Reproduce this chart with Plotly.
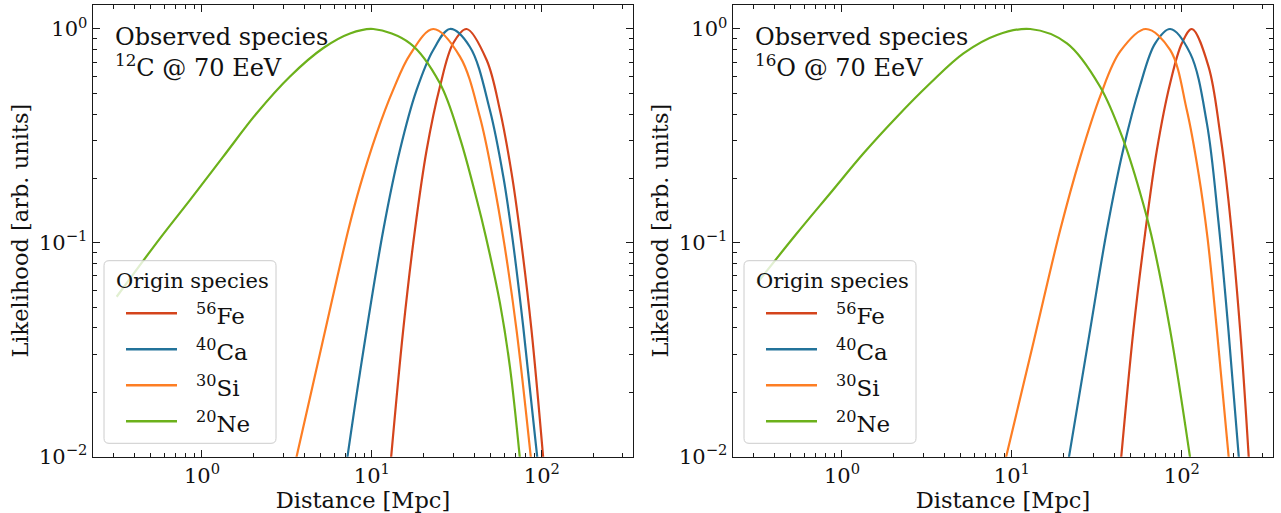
import numpy as np
import plotly.graph_objects as go

# ---------------- data (log10 of the values) ----------------
species = ["<sup>56</sup>Fe", "<sup>40</sup>Ca", "<sup>30</sup>Si", "<sup>20</sup>Ne"]
colors = ["#d4441c", "#23739a", "#fd7e24", "#6cb11b"]

# Panel 1: observed 12C @ 70 EeV   (log10 distance [Mpc], log10 likelihood)
c12_fe_logd = [1.102, 1.184, 1.253, 1.322, 1.40, 1.478, 1.557, 1.675, 1.753, 1.822, 1.871, 1.939, 2.018]
c12_fe_logl = [-2.1, -1.408, -0.94, -0.566, -0.27, -0.067, 0.0, -0.145, -0.379, -0.675, -0.95, -1.408, -2.1]
c12_ca_logd = [0.838, 0.929, 1.067, 1.165, 1.263, 1.361, 1.459, 1.576, 1.694, 1.773, 1.828, 1.89, 1.986]
c12_ca_logl = [-2.1, -1.61, -0.94, -0.566, -0.285, -0.098, 0.0, -0.083, -0.379, -0.69, -0.985, -1.39, -2.1]
c12_si_logd = [0.528, 0.708, 0.861, 0.929, 1.028, 1.125, 1.224, 1.361, 1.518, 1.635, 1.714, 1.778, 1.851, 1.948]
c12_si_logl = [-2.1, -1.47, -0.94, -0.737, -0.488, -0.285, -0.12, 0.0, -0.129, -0.41, -0.706, -1.0, -1.408, -2.1]
c12_ne_logd = [-0.502, -0.247, -0.071, 0.125, 0.322, 0.518, 0.714, 0.871, 1.008, 1.224, 1.40, 1.518, 1.616, 1.670, 1.753, 1.812, 1.882]
c12_ne_logl = [-1.252, -0.979, -0.800, -0.597, -0.394, -0.222, -0.089, -0.021, 0.0, -0.067, -0.254, -0.51, -0.795, -0.97, -1.28, -1.58, -2.1]

# Panel 2: observed 16O @ 70 EeV
o16_fe_logd = [1.632, 1.715, 1.783, 1.853, 1.931, 2.0, 2.059, 2.157, 2.225, 2.274, 2.343, 2.401]
o16_fe_logl = [-2.1, -1.408, -0.96, -0.566, -0.254, -0.067, 0.0, -0.176, -0.488, -0.8, -1.408, -2.1]
o16_ca_logd = [1.315, 1.46, 1.559, 1.656, 1.755, 1.843, 1.931, 2.049, 2.147, 2.215, 2.274, 2.345]
o16_ca_logl = [-2.1, -1.408, -0.94, -0.56, -0.262, -0.067, 0.0, -0.114, -0.44, -0.90, -1.408, -2.1]
o16_si_logd = [0.936, 1.127, 1.284, 1.402, 1.519, 1.637, 1.788, 1.931, 2.029, 2.098, 2.151, 2.206, 2.287]
o16_si_logl = [-2.1, -1.465, -0.94, -0.60, -0.315, -0.105, 0.0, -0.098, -0.379, -0.675, -0.977, -1.408, -2.1]
o16_ne_logd = [-0.5, -0.27, -0.069, 0.127, 0.324, 0.519, 0.715, 0.912, 1.108, 1.324, 1.519, 1.656, 1.755, 1.819, 1.931, 2.066]
o16_ne_logl = [-1.189, -0.96, -0.768, -0.581, -0.41, -0.254, -0.114, -0.028, 0.0, -0.067, -0.27, -0.52, -0.768, -0.96, -1.408, -2.1]

panel_titles = ["Observed species<br><sup>12</sup>C @ 70 EeV",
                "Observed species<br><sup>16</sup>O @ 70 EeV"]
panel_d = [[c12_fe_logd, c12_ca_logd, c12_si_logd, c12_ne_logd],
           [o16_fe_logd, o16_ca_logd, o16_si_logd, o16_ne_logd]]
panel_l = [[c12_fe_logl, c12_ca_logl, c12_si_logl, c12_ne_logl],
           [o16_fe_logl, o16_ca_logl, o16_si_logl, o16_ne_logl]]

legend_title = "Origin species"
x_title = "Distance [Mpc]"
y_title = "Likelihood [arb. units]"
y_tickvals = [0.01, 0.1, 1.0]
y_ticktext = ["10<sup>−2</sup>", "10<sup>−1</sup>", "10<sup>0</sup>"]
x_tickvals = [1.0, 10.0, 100.0]
x_ticktext = ["10<sup>0</sup>", "10<sup>1</sup>", "10<sup>2</sup>"]

# ---------------- layout constants ----------------
FONT = "DejaVu Serif"
INK = "#111111"
W, H = 1281, 513
xdomains = [[92.7 / W, 633.3 / W], [732.7 / W, 1273.3 / W]]
ydomain = [(H - 456.7) / H, (H - 4.7) / H]
x_minor = [m * 10.0 ** e for e in range(-1, 3) for m in range(2, 10)]
y_minor = [m * 10.0 ** e for e in range(-2, 1) for m in range(2, 10)]


def px(x):
    return x / W


def py(y):
    return (H - y) / H


def rounded_rect(x0, y0, x1, y1, r):
    """pixel coords (top-left origin) -> svg path in paper coords"""
    rx, ry = r / W, r / H
    X0, X1 = px(x0), px(x1)
    Y0, Y1 = py(y0), py(y1)  # Y0 top (larger), Y1 bottom
    return (f"M {X0 + rx},{Y0} L {X1 - rx},{Y0} Q {X1},{Y0} {X1},{Y0 - ry} "
            f"L {X1},{Y1 + ry} Q {X1},{Y1} {X1 - rx},{Y1} "
            f"L {X0 + rx},{Y1} Q {X0},{Y1} {X0},{Y1 + ry} "
            f"L {X0},{Y0 - ry} Q {X0},{Y0} {X0 + rx},{Y0} Z")


fig = go.Figure()

for p in range(2):
    xa = "x" if p == 0 else "x2"
    ya = "y" if p == 0 else "y2"
    for i in range(4):
        fig.add_trace(go.Scatter(
            x=10 ** np.array(panel_d[p][i]), y=10 ** np.array(panel_l[p][i]),
            mode="lines", line=dict(color=colors[i], width=2.2, shape="spline", smoothing=1.0),
            name=species[i], xaxis=xa, yaxis=ya, showlegend=False, cliponaxis=True,
            hoverinfo="skip"))

axis_common = dict(
    type="log", showgrid=False, zeroline=False, showline=True, linecolor="#1a1a1a",
    linewidth=1.2, mirror="allticks", ticks="inside", ticklen=7, tickwidth=1.1,
    tickcolor="#1a1a1a", tickfont=dict(family=FONT, size=21, color=INK), automargin=False,
)

for p in range(2):
    sx = "" if p == 0 else "2"
    fig.update_layout(**{
        f"xaxis{sx}": dict(axis_common, domain=xdomains[p], range=[-0.643, 2.538],
                           anchor=f"y{sx}", tickvals=x_tickvals, ticktext=x_ticktext,
                           minor=dict(ticks="inside", ticklen=4, tickwidth=1, tickcolor="#1a1a1a",
                                      tickvals=x_minor, showgrid=False),
                           title=dict(text=x_title, font=dict(family=FONT, size=22.5, color=INK), standoff=4)),
        f"yaxis{sx}": dict(axis_common, domain=ydomain, range=[-2.0, 0.1136],
                           anchor=f"x{sx}", tickvals=y_tickvals, ticktext=y_ticktext,
                           minor=dict(ticks="inside", ticklen=4, tickwidth=1, tickcolor="#1a1a1a",
                                      tickvals=y_minor, showgrid=False),
                           title=dict(text=y_title, font=dict(family=FONT, size=22.5, color=INK), standoff=4)),
    })

    dx = 0 if p == 0 else 640
    # panel caption
    fig.add_annotation(text=panel_titles[p], xref="paper", yref="paper",
                       x=px(113 + dx), y=py(21), xanchor="left", yanchor="top", align="left",
                       showarrow=False, font=dict(family=FONT, size=24, color=INK))
    # legend box
    fig.add_shape(type="path", path=rounded_rect(104 + dx, 260.7, 276 + dx, 443.3, 5),
                  xref="paper", yref="paper", fillcolor="rgba(255,255,255,0.8)",
                  line=dict(color="#cccccc", width=1), layer="above")
    fig.add_annotation(text=legend_title, xref="paper", yref="paper",
                       x=px(114 + dx), y=py(281), xanchor="left", yanchor="middle",
                       showarrow=False, font=dict(family=FONT, size=21, color=INK))
    for i in range(4):
        yy = 313.3 + 36.0 * i
        fig.add_shape(type="line", xref="paper", yref="paper",
                      x0=px(126 + dx), x1=px(177 + dx), y0=py(yy), y1=py(yy),
                      line=dict(color=colors[i], width=2.4), layer="above")
        fig.add_annotation(text=species[i], xref="paper", yref="paper",
                           x=px(194 + dx), y=py(yy + 1), xanchor="left", yanchor="middle",
                           showarrow=False, font=dict(family=FONT, size=23, color=INK))

fig.update_layout(
    width=W, height=H, margin=dict(l=0, r=0, t=0, b=0),
    paper_bgcolor="white", plot_bgcolor="white", showlegend=False,
)

fig.write_html("out.html", config={"displayModeBar": False},
               post_script="document.body.style.margin='0';document.body.style.overflow='hidden';")
